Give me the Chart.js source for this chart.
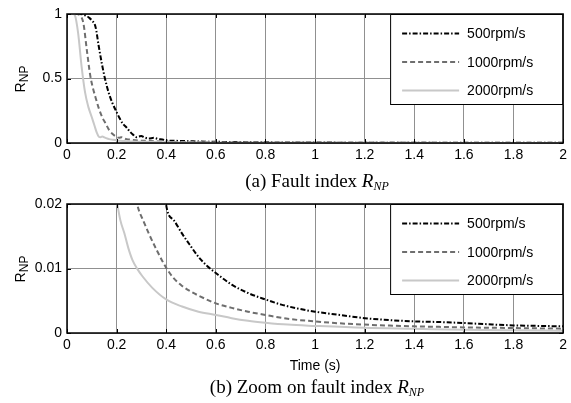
<!DOCTYPE html>
<html>
<head>
<meta charset="utf-8">
<script src="https://cdn.jsdelivr.net/npm/chart.js@4.4.1/dist/chart.umd.min.js"></script>
<style>
  body { margin: 0; background: #fff; width: 571px; height: 403px; position: relative; overflow: hidden;
         font-family: "Liberation Sans", Arial, sans-serif; color: #000; }
  canvas { position: absolute; left: 0; }
  #chartA { top: 0; }
  #chartB { top: 190px; }
  .cap { position: absolute; left: 67px; width: 500px; text-align: center; line-height: 20px;
         font-family: "Liberation Serif", "Times New Roman", serif; font-size: 19px; }
  .cap i { font-style: italic; }
  .cap sub { font-size: 12px; vertical-align: -3px; font-style: italic; }
  .ylab { position: absolute; width: 60px; height: 18px; line-height: 18px; text-align: center;
          font-size: 14px; transform: rotate(-90deg); transform-origin: 50% 50%; }
  .ylab sub { font-size: 12px; vertical-align: -3px; }
</style>
</head>
<body>
<canvas id="chartA" width="571" height="170"></canvas>
<canvas id="chartB" width="571" height="190"></canvas>
<div class="ylab" style="left:-10px; top:70px;">R<sub>NP</sub></div>
<div class="ylab" style="left:-10px; top:260px;">R<sub>NP</sub></div>
<div class="cap" style="top:171px;">(a) Fault index <i>R</i><sub>NP</sub></div>
<div class="cap" style="top:377px;">(b) Zoom on fault index <i>R</i><sub>NP</sub></div>
<script>
// values (time in s, fault index R_NP)
var seriesLabels = ["500rpm/s", "1000rpm/s", "2000rpm/s"];

var t500 = [0, 0.05, 0.073, 0.09, 0.1, 0.115, 0.128, 0.14, 0.153, 0.168, 0.183, 0.2, 0.21, 0.225, 0.24, 0.255, 0.266, 0.28, 0.29, 0.3, 0.31, 0.33, 0.35, 0.37, 0.385, 0.4, 0.43, 0.464, 0.5, 0.53, 0.565, 0.6, 0.664, 0.73, 0.8, 0.864, 0.93, 1.0, 1.1, 1.2, 1.3, 1.4, 1.5, 1.6, 1.7, 1.8, 1.9, 2.0];
var r500 = [1, 1, 0.99, 0.97, 0.95, 0.9, 0.75, 0.62, 0.5, 0.39, 0.31, 0.24, 0.2, 0.15, 0.12, 0.085, 0.065, 0.045, 0.05, 0.055, 0.045, 0.035, 0.04, 0.03, 0.028, 0.0198, 0.0175, 0.0154, 0.0134, 0.0118, 0.0104, 0.0093, 0.0075, 0.0062, 0.0052, 0.0044, 0.0038, 0.0033, 0.0028, 0.0023, 0.002, 0.0018, 0.0017, 0.00155, 0.00135, 0.00118, 0.0011, 0.00103];

var t1000 = [0, 0.04, 0.052, 0.066, 0.08, 0.094, 0.104, 0.114, 0.128, 0.142, 0.156, 0.17, 0.184, 0.197, 0.21, 0.22, 0.24, 0.26, 0.284, 0.31, 0.33, 0.365, 0.4, 0.43, 0.464, 0.5, 0.53, 0.6, 0.664, 0.73, 0.8, 0.89, 1.0, 1.1, 1.2, 1.3, 1.4, 1.5, 1.6, 1.8, 2.0];
var r1000 = [1, 1, 0.99, 0.93, 0.72, 0.52, 0.43, 0.36, 0.27, 0.2, 0.15, 0.1, 0.07, 0.05, 0.04, 0.045, 0.03, 0.025, 0.0198, 0.0172, 0.0154, 0.0126, 0.0101, 0.0085, 0.0073, 0.0064, 0.0058, 0.0046, 0.0039, 0.0033, 0.0028, 0.0022, 0.0018, 0.0015, 0.0013, 0.00115, 0.00103, 0.00095, 0.00087, 0.00077, 0.00067];

var t2000 = [0, 0.025, 0.032, 0.045, 0.059, 0.073, 0.086, 0.1, 0.11, 0.12, 0.128, 0.135, 0.142, 0.155, 0.17, 0.185, 0.204, 0.215, 0.231, 0.247, 0.264, 0.284, 0.304, 0.344, 0.4, 0.464, 0.53, 0.6, 0.664, 0.73, 0.8, 0.89, 1.0, 1.2, 1.4, 1.6, 1.8, 2.0];
var r2000 = [1, 1, 0.99, 0.85, 0.59, 0.39, 0.28, 0.2, 0.14, 0.08, 0.05, 0.045, 0.05, 0.04, 0.03, 0.025, 0.0198, 0.0175, 0.0155, 0.0132, 0.0113, 0.0099, 0.0088, 0.007, 0.0052, 0.0041, 0.0033, 0.0028, 0.0023, 0.0019, 0.0016, 0.0013, 0.0011, 0.0008, 0.00065, 0.0005, 0.00042, 0.00036];

var xTicks = [0, 0.2, 0.4, 0.6, 0.8, 1, 1.2, 1.4, 1.6, 1.8, 2];
var yTicksA = [0, 0.5, 1];
var yTicksB = [0, 0.01, 0.02];

function pts(t, r) {
  return t.map(function(v, i) { return { x: v, y: r[i] }; });
}

function makeDatasets() {
  return [
    { label: seriesLabels[0], data: pts(t500, r500), borderColor: "#000000", borderWidth: 2,
      borderDash: [5, 2, 1.5, 2], order: 3 },
    { label: seriesLabels[1], data: pts(t1000, r1000), borderColor: "#6e6e6e", borderWidth: 2,
      borderDash: [5, 3], order: 2 },
    { label: seriesLabels[2], data: pts(t2000, r2000), borderColor: "#c8c8c8", borderWidth: 2,
      borderDash: [], order: 1 }
  ];
}

// matlab style box, inward ticks and legend in the upper right corner
var framePlugin = {
  id: "frame",
  afterDatasetsDraw: function(chart) {
    var ctx = chart.ctx, a = chart.chartArea, sx = chart.scales.x, sy = chart.scales.y;
    ctx.save();
    ctx.strokeStyle = "#000";
    ctx.lineWidth = 1;
    ctx.setLineDash([]);
    ctx.beginPath();
    sx.ticks.forEach(function(t) {
      var p = Math.round(sx.getPixelForValue(t.value)) + 0.5;
      ctx.moveTo(p, a.top); ctx.lineTo(p, a.top + 4);
      ctx.moveTo(p, a.bottom); ctx.lineTo(p, a.bottom - 4);
    });
    sy.ticks.forEach(function(t) {
      var p = Math.round(sy.getPixelForValue(t.value)) + 0.5;
      ctx.moveTo(a.left, p); ctx.lineTo(a.left + 4, p);
      ctx.moveTo(a.right, p); ctx.lineTo(a.right - 4, p);
    });
    ctx.stroke();
    ctx.lineWidth = 1.5;
    ctx.strokeRect(a.left, a.top, a.right - a.left, a.bottom - a.top);

    // legend
    var w = 173, h = 91, left = a.right - w, top = a.top;
    ctx.fillStyle = "#fff";
    ctx.fillRect(left, top, w, h);
    ctx.lineWidth = 1;
    ctx.strokeRect(left + 0.5, top + 0.5, w - 1, h - 1);
    ctx.font = "14px 'Liberation Sans', Arial, sans-serif";
    ctx.textBaseline = "middle";
    ctx.textAlign = "left";
    chart.data.datasets.forEach(function(ds, i) {
      var y = top + 19.5 + i * 28.5;
      ctx.strokeStyle = ds.borderColor;
      ctx.lineWidth = ds.borderWidth;
      ctx.setLineDash(ds.borderDash);
      ctx.beginPath();
      ctx.moveTo(left + 12, y);
      ctx.lineTo(left + 69, y);
      ctx.stroke();
      ctx.setLineDash([]);
      ctx.fillStyle = "#000";
      ctx.fillText(ds.label, left + 77, y + 1);
    });
    ctx.restore();
  }
};

function buildChart(id, yTicks, yMax, xHeight, showTitle) {
  var ctx = document.getElementById(id).getContext("2d");
  var tickFont = { family: "'Liberation Sans', Arial, sans-serif", size: 14 };
  return new Chart(ctx, {
    type: "line",
    data: { datasets: makeDatasets() },
    options: {
      responsive: false,
      animation: false,
      layout: { padding: { top: 14, right: 4, left: 0, bottom: 0 } },
      elements: { point: { radius: 0 }, line: { cubicInterpolationMode: "monotone" } },
      plugins: { legend: { display: false }, tooltip: { enabled: false } },
      scales: {
        x: {
          type: "linear", min: 0, max: 2,
          afterBuildTicks: function(s) { s.ticks = xTicks.map(function(v) { return { value: v }; }); },
          afterFit: function(s) { s.height = xHeight; },
          grid: { color: "#909090", lineWidth: 1, drawTicks: false },
          border: { display: false },
          ticks: { font: tickFont, color: "#000", padding: 4, maxRotation: 0,
                   callback: function(v) { return String(v); } },
          title: { display: showTitle, text: "Time (s)", font: tickFont, color: "#000",
                   padding: { top: 0, bottom: 5 } }
        },
        y: {
          type: "linear", min: 0, max: yMax,
          afterBuildTicks: function(s) { s.ticks = yTicks.map(function(v) { return { value: v }; }); },
          afterFit: function(s) { s.width = 67; },
          grid: { color: "#909090", lineWidth: 1, drawTicks: false },
          border: { display: false },
          ticks: { font: tickFont, color: "#000", padding: 5,
                   callback: function(v) { return String(v); } }
        }
      }
    },
    plugins: [framePlugin]
  });
}

buildChart("chartA", yTicksA, 1, 27, false);
buildChart("chartB", yTicksB, 0.02, 47, true);
</script>
</body>
</html>
